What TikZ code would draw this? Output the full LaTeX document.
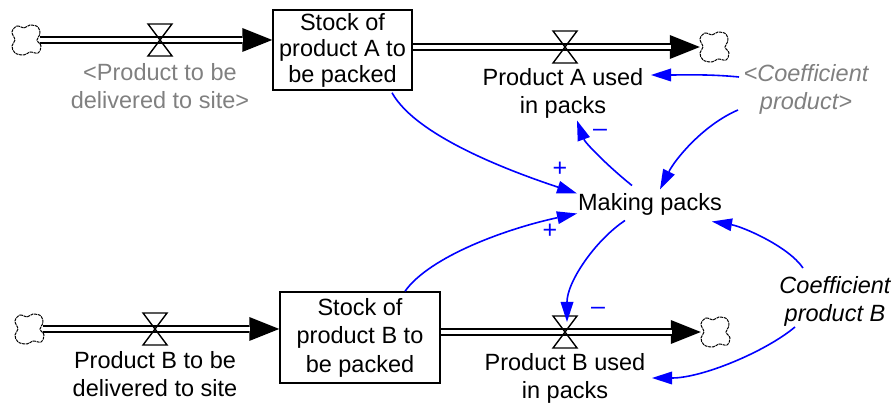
\documentclass[tikz,border=0pt]{standalone}
\usepackage{fontspec}
\setmainfont{Liberation Sans}
\usetikzlibrary{arrows.meta,calc}
\definecolor{linkblue}{RGB}{0,0,255}
\definecolor{shadowgray}{RGB}{128,128,128}
\begin{document}
\begin{tikzpicture}[x=1pt,y=-1pt,
  lbl/.style={font=\fontsize{23.5}{28}\selectfont, align=center, inner sep=0pt},
  shadowlbl/.style={lbl, text=shadowgray, font=\fontsize{23.5}{28}\selectfont\itshape},
  ghostlbl/.style={lbl, text=shadowgray},
  stockbox/.style={draw, line width=1.5pt, align=center, inner sep=0pt},
  cloudhold/.style={inner sep=0pt, minimum width=28pt, minimum height=28pt},
  pipeouter/.style={line width=8.5pt, -{Triangle[length=30pt,width=24pt,line width=0pt]}},
  pipeinner/.style={white, line width=4pt, shorten >=29pt},
  link/.style={linkblue, line width=1.6pt, -{Triangle[length=20pt,width=13pt,line width=0pt]}},
  polarity/.style={text=linkblue, font=\fontsize{25}{25}\selectfont, inner sep=0pt},
  cloudshape/.pic={\draw[line width=1pt, dash pattern=on 3pt off 0.8pt]
     plot[smooth cycle, tension=0.6] coordinates {(-14,-8) (-9,-14) (-2,-12) (4,-15) (12,-13) (14,-6)
       (11,0) (15,6) (12,13) (4,12) (-2,15) (-11,13) (-14,6) (-11,0)};},
  valveshape/.pic={\draw[line width=1.4pt, line join=miter]
     (-12,-16) -- (12,-16) -- (0,0) -- cycle (-12,16) -- (12,16) -- (0,0) -- cycle;}]
\useasboundingbox (0,0) rectangle (895,403);

% stocks
\node[stockbox, minimum width=139pt, minimum height=80pt,
      font=\fontsize{23.5}{26}\selectfont] (stockA) at (342.5,50) {Stock of\\product A to\\be packed};
\node[stockbox, minimum width=160pt, minimum height=91pt,
      font=\fontsize{23.5}{28.5}\selectfont] (stockB) at (360,337.5) {Stock of\\product B to\\be packed};

% sources and sinks
\node[cloudhold] (cloudA1) at (26,40) {};
\node[cloudhold] (cloudA2) at (714,47) {};
\node[cloudhold] (cloudB1) at (29,329) {};
\node[cloudhold] (cloudB2) at (715,332) {};
\foreach \c in {cloudA1,cloudA2,cloudB1,cloudB2} \pic at (\c) {cloudshape};

% valve positions
\coordinate (valveA1) at (160,40);
\coordinate (valveA2) at (565,47);
\coordinate (valveB1) at (155,329);
\coordinate (valveB2) at (565,332);

% pipes
\draw[pipeouter] (cloudA1.east) -- (cloudA1.east -| stockA.west);
\draw[pipeinner] (cloudA1.east) -- (cloudA1.east -| stockA.west);
\draw[pipeouter] (valveA2 -| stockA.east) -- (valveA2 -| cloudA2.west);
\draw[pipeinner] (valveA2 -| stockA.east) -- (valveA2 -| cloudA2.west);
\draw[pipeouter] (cloudB1.east) -- (cloudB1.east -| stockB.west);
\draw[pipeinner] (cloudB1.east) -- (cloudB1.east -| stockB.west);
\draw[pipeouter] (valveB2 -| stockB.east) -- (valveB2 -| cloudB2.west);
\draw[pipeinner] (valveB2 -| stockB.east) -- (valveB2 -| cloudB2.west);
\foreach \v in {valveA1,valveA2,valveB1,valveB2} \pic at (\v) {valveshape};

% flow and variable names
\node[ghostlbl] (inA) at (160,86) {<Product to be\\delivered to site>};
\node[lbl] (outA) at (563,93.5) {Product A used\\in packs};
\node[lbl] (inB) at (155,374.5) {Product B to be\\delivered to site};
\node[lbl] (outB) at (565,378) {Product B used\\in packs};
\node[shadowlbl] (coefA) at (806,89.5) {<Coefficient\\product>};
\node[lbl, font=\fontsize{23.5}{28}\selectfont\itshape] (coefB) at (835,301) {Coefficient\\product B};
\node[lbl] (making) at (650,204.5) {Making packs};

% causal links
\draw[link] ($(stockA.south)+(49.5,2)$) .. controls +(25,45) and +(-60,-20) .. ($(making)+(-73,-11)$);
\draw[link] ($(stockB.north)+(45,0)$) .. controls +(25,-35) and +(-70,15) .. ($(making)+(-73,9)$);
\draw[link] ($(making)+(-18,-19)$) .. controls +(-25,-20) and +(8,22) .. ($(outA)+(14,27)$);
\draw[link] ($(coefA)+(-68,20.5)$) .. controls +(-35,15) and +(15,-30) .. ($(making)+(10,-15)$);
\draw[link] ($(coefA)+(-67,-12.5)$) .. controls +(-30,-3) and +(30,0) .. ($(outA)+(88,-18.5)$);
\draw[link] ($(making)+(-25,16)$) .. controls +(-30,20) and +(0,-40) .. ($(valveB2)+(2,-10)$);
\draw[link] ($(coefB)+(-32,-33)$) .. controls +(-15,-22) and +(30,5) .. ($(making)+(62,17)$);
\draw[link] ($(coefB)+(-40,26)$) .. controls +(-30,25) and +(50,0) .. ($(outB)+(87,0)$);

% link polarities
\node[polarity] (polA) at (560,169) {+};
\node[polarity] (polB) at (550,231) {+};
\node[polarity] (polUseA) at (600,133) {–};
\node[polarity] (polUseB) at (598,311) {–};
\end{tikzpicture}
\end{document}
